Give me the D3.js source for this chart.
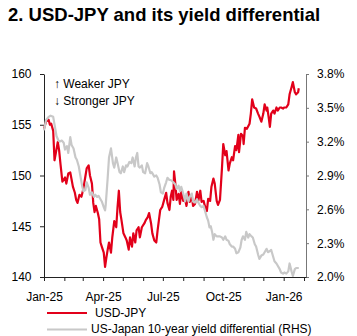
<!DOCTYPE html>
<html><head><meta charset="utf-8">
<script src="https://cdn.jsdelivr.net/npm/d3@7"></script>
<style>
html,body{margin:0;padding:0;background:#fff;}
svg{display:block;font-family:"Liberation Sans",Arial,sans-serif;}
</style></head>
<body><svg id="c" width="357" height="336"></svg>
<script>
const title = "2. USD-JPY and its yield differential";
const annotations = ["\u2191 Weaker JPY", "\u2193 Stronger JPY"];
const legendLabels = ["USD-JPY", "US-Japan 10-year yield differential (RHS)"];
const leftTicks = [140, 145, 150, 155, 160];
const rightTicks = [2.0, 2.3, 2.6, 2.9, 3.2, 3.5, 3.8];
const labelMonths = [0, 3, 6, 9];

const usdjpyDates = ["2025-01-01","2025-01-04","2025-01-08","2025-01-10","2025-01-12","2025-01-15","2025-01-17","2025-01-19","2025-01-22","2025-01-24","2025-01-26","2025-01-29","2025-02-02","2025-02-04","2025-02-07","2025-02-10","2025-02-12","2025-02-14","2025-02-17","2025-02-19","2025-02-21","2025-02-24","2025-02-27","2025-03-02","2025-03-05","2025-03-07","2025-03-10","2025-03-12","2025-03-15","2025-03-17","2025-03-19","2025-03-21","2025-03-24","2025-03-26","2025-03-28","2025-03-30","2025-04-02","2025-04-04","2025-04-06","2025-04-08","2025-04-10","2025-04-13","2025-04-15","2025-04-18","2025-04-21","2025-04-23","2025-04-25","2025-04-27","2025-04-29","2025-05-02","2025-05-05","2025-05-07","2025-05-10","2025-05-12","2025-05-15","2025-05-17","2025-05-20","2025-05-22","2025-05-25","2025-05-27","2025-05-30","2025-06-03","2025-06-05","2025-06-08","2025-06-10","2025-06-13","2025-06-15","2025-06-18","2025-06-21","2025-06-23","2025-06-25","2025-06-27","2025-06-30","2025-07-03","2025-07-06","2025-07-08","2025-07-11","2025-07-13","2025-07-15","2025-07-17","2025-07-18","2025-07-20","2025-07-22","2025-07-25","2025-07-27","2025-07-29","2025-08-01","2025-08-03","2025-08-06","2025-08-09","2025-08-11","2025-08-14","2025-08-16","2025-08-19","2025-08-22","2025-08-24","2025-08-27","2025-08-29","2025-09-01","2025-09-03","2025-09-06","2025-09-08","2025-09-11","2025-09-13","2025-09-16","2025-09-18","2025-09-21","2025-09-23","2025-09-26","2025-09-29","2025-10-01","2025-10-04","2025-10-06","2025-10-09","2025-10-11","2025-10-14","2025-10-16","2025-10-19","2025-10-21","2025-10-24","2025-10-25","2025-10-28","2025-10-31","2025-11-01","2025-11-03","2025-11-06","2025-11-10","2025-11-12","2025-11-14","2025-11-17","2025-11-20","2025-11-23","2025-11-25","2025-11-28","2025-12-01","2025-12-03","2025-12-06","2025-12-07","2025-12-09","2025-12-11","2025-12-13","2025-12-16","2025-12-18","2025-12-21","2025-12-23","2025-12-26","2025-12-28","2025-12-31","2026-01-02","2026-01-05","2026-01-08","2026-01-10","2026-01-13","2026-01-15","2026-01-18","2026-01-20","2026-01-23","2026-01-24"];
const usdjpyValues = [154.6,155.3,155.5,155.0,155.1,154.4,151.5,152.2,153.3,152.5,
151.2,149.4,149.8,149.2,150.2,150.3,149.6,148.9,148.3,147.6,
147.3,148.1,147.9,148.7,149.9,150.7,151.0,150.0,149.2,147.3,
146.4,147.0,146.3,145.7,143.4,143.0,142.4,141.0,141.9,142.7,
143.4,142.4,143.9,145.5,144.9,146.9,148.5,146.4,145.6,144.3,
143.9,143.6,142.7,143.9,143.0,144.3,143.4,144.6,144.9,143.9,
144.9,145.3,145.6,145.9,146.3,145.3,144.3,143.6,143.4,144.6,
145.6,146.6,146.9,147.6,148.3,147.3,146.6,147.9,148.5,147.6,
150.4,149.2,147.6,148.2,147.2,148.4,147.5,147.9,147.0,148.4,
147.4,148.0,147.0,147.2,148.4,147.5,148.5,147.4,147.5,147.0,
146.5,147.7,147.5,148.9,149.7,149.2,147.5,147.1,147.6,150.7,
153.1,152.0,152.4,150.5,151.2,151.8,151.5,152.9,152.5,154.0,
152.3,154.1,153.9,153.1,154.7,154.6,155.1,156.1,157.5,156.7,
156.6,156.1,155.8,155.3,156.1,157.0,156.4,156.7,155.8,154.8,
156.1,156.4,156.1,156.7,156.4,156.7,156.7,156.6,156.7,156.7,
157.0,158.0,158.7,159.2,158.2,158.0,158.2,158.6];

const spreadDates = ["2025-01-01","2025-01-04","2025-01-08","2025-01-11","2025-01-15","2025-01-18","2025-01-20","2025-01-23","2025-01-25","2025-01-28","2025-01-31","2025-02-02","2025-02-05","2025-02-07","2025-02-10","2025-02-12","2025-02-15","2025-02-18","2025-02-20","2025-02-23","2025-02-25","2025-02-28","2025-03-02","2025-03-05","2025-03-07","2025-03-10","2025-03-12","2025-03-15","2025-03-18","2025-03-20","2025-03-23","2025-03-25","2025-03-28","2025-03-30","2025-04-02","2025-04-04","2025-04-05","2025-04-08","2025-04-10","2025-04-13","2025-04-16","2025-04-18","2025-04-21","2025-04-23","2025-04-26","2025-04-28","2025-05-01","2025-05-03","2025-05-06","2025-05-08","2025-05-11","2025-05-14","2025-05-16","2025-05-19","2025-05-21","2025-05-23","2025-05-25","2025-05-27","2025-05-30","2025-06-01","2025-06-04","2025-06-07","2025-06-09","2025-06-12","2025-06-14","2025-06-18","2025-06-21","2025-06-23","2025-06-26","2025-06-28","2025-07-01","2025-07-03","2025-07-06","2025-07-08","2025-07-11","2025-07-13","2025-07-17","2025-07-20","2025-07-22","2025-07-25","2025-07-27","2025-07-29","2025-08-01","2025-08-04","2025-08-06","2025-08-09","2025-08-11","2025-08-14","2025-08-16","2025-08-19","2025-08-22","2025-08-24","2025-08-27","2025-08-29","2025-09-01","2025-09-03","2025-09-06","2025-09-08","2025-09-10","2025-09-12","2025-09-14","2025-09-16","2025-09-18","2025-09-21","2025-09-23","2025-09-26","2025-09-29","2025-10-01","2025-10-04","2025-10-06","2025-10-09","2025-10-11","2025-10-14","2025-10-16","2025-10-19","2025-10-21","2025-10-24","2025-10-27","2025-10-29","2025-10-31","2025-11-03","2025-11-05","2025-11-08","2025-11-10","2025-11-13","2025-11-15","2025-11-18","2025-11-20","2025-11-23","2025-11-25","2025-11-28","2025-12-01","2025-12-03","2025-12-06","2025-12-08","2025-12-11","2025-12-13","2025-12-16","2025-12-18","2025-12-21","2025-12-23","2025-12-26","2025-12-28","2025-12-31","2026-01-02","2026-01-05","2026-01-08","2026-01-10","2026-01-13","2026-01-15","2026-01-18","2026-01-20","2026-01-23","2026-01-24"];
const spreadValues = [3.30,3.39,3.42,3.43,3.42,3.32,3.25,3.21,3.20,3.21,
3.19,3.13,3.16,3.10,3.24,3.17,3.14,3.06,3.04,2.98,
2.91,2.81,2.76,2.77,2.84,2.79,2.73,2.75,2.71,2.73,
2.71,2.72,2.69,2.67,2.62,2.59,2.64,2.88,3.06,3.14,
3.01,2.97,3.06,3.01,2.93,2.92,2.98,2.93,2.99,2.98,
3.02,3.01,3.06,2.98,3.06,3.10,2.98,2.97,2.99,2.93,
2.92,3.01,2.98,2.92,2.93,2.89,2.90,2.88,2.82,2.75,
2.74,2.79,2.84,2.88,2.86,2.86,2.84,2.82,2.78,2.81,
2.76,2.80,2.74,2.67,2.74,2.67,2.71,2.74,2.67,2.66,
2.69,2.66,2.63,2.62,2.63,2.59,2.53,2.50,2.44,2.45,
2.40,2.33,2.38,2.36,2.36,2.36,2.35,2.33,2.36,2.33,
2.32,2.29,2.27,2.27,2.25,2.21,2.22,2.26,2.33,2.36,
2.33,2.40,2.35,2.38,2.36,2.35,2.29,2.27,2.20,2.16,
2.19,2.20,2.22,2.25,2.22,2.23,2.24,2.18,2.14,2.12,
2.10,2.07,2.04,2.03,2.04,2.03,2.05,2.12,2.05,2.01,
2.07,2.08,2.08,2.08];

const RED = "#e2001a", GREY = "#c8c8c8";
const parse = d3.timeParse("%Y-%m-%d");
const zip = (ds, vs) => d3.range(Math.min(ds.length, vs.length)).map(i => ({d: parse(ds[i]), v: vs[i]}));
const fx = zip(usdjpyDates, usdjpyValues);
const sp = zip(spreadDates, spreadValues);

const svg = d3.select("#c");
const L = 44, R = 306, T = 74, B = 277;
const x = d3.scaleTime().domain([new Date(2025,0,1), new Date(2026,1,4)]).range([L, R]);
const yL = d3.scaleLinear().domain([140, 160]).range([B, T]);
const yR = d3.scaleLinear().domain([2.0, 3.8]).range([B, T]);

svg.append("text").attr("x", 8).attr("y", 21).attr("font-size", 18.5).attr("font-weight", "bold")
  .attr("fill", "#000").text(title);

// axes
const gl = svg.append("g").attr("transform", `translate(${L},0)`)
  .call(d3.axisLeft(yL).tickValues(leftTicks).tickSize(4).tickSizeOuter(0).tickPadding(8.5));
const gr = svg.append("g").attr("transform", `translate(${R},0)`)
  .call(d3.axisRight(yR).tickValues(rightTicks).tickSize(3).tickSizeOuter(0).tickPadding(8)
    .tickFormat(d => d.toFixed(1) + "%"));
const months = d3.timeMonth.range(new Date(2025,0,1), new Date(2026,1,2));
const gb = svg.append("g").attr("transform", `translate(0,${B})`)
  .call(d3.axisBottom(x).tickValues(months).tickSize(4).tickSizeOuter(0).tickPadding(11)
    .tickFormat(d => labelMonths.includes(d.getMonth()) ? d3.timeFormat("%b-%y")(d) : ""));
[gl, gr, gb].forEach(g => {
  g.selectAll("text").attr("font-size", 12).attr("fill", "#000").attr("font-family", "Liberation Sans, Arial, sans-serif");
});
gl.selectAll("path,line").attr("stroke", "#222");
gb.selectAll("path,line").attr("stroke", "#222");
gr.selectAll("path,line").attr("stroke", "#777");

// lines
const lineL = d3.line().x(p => x(p.d)).y(p => yL(p.v));
const lineR = d3.line().x(p => x(p.d)).y(p => yR(p.v));
svg.append("path").datum(fx).attr("d", lineL).attr("fill", "none").attr("stroke", RED)
  .attr("stroke-width", 2.2).attr("stroke-linejoin", "round");
svg.append("path").datum(sp).attr("d", lineR).attr("fill", "none").attr("stroke", GREY)
  .attr("stroke-width", 2.2).attr("stroke-linejoin", "round");

// annotations
annotations.forEach((t, i) => {
  svg.append("text").attr("x", 54).attr("y", 88 + i * 17).attr("font-size", 12).attr("fill", "#000").text(t);
});

// legend
const leg = [{c: RED, t: legendLabels[0], y: 313, ty: 317, tx: 95}, {c: GREY, t: legendLabels[1], y: 329.5, ty: 333, tx: 91}];
leg.forEach(o => {
  svg.append("line").attr("x1", 47).attr("x2", 87).attr("y1", o.y).attr("y2", o.y)
    .attr("stroke", o.c).attr("stroke-width", 2.2);
  svg.append("text").attr("x", o.tx).attr("y", o.ty).attr("font-size", 12).attr("fill", "#000").text(o.t);
});
</script></body></html>
